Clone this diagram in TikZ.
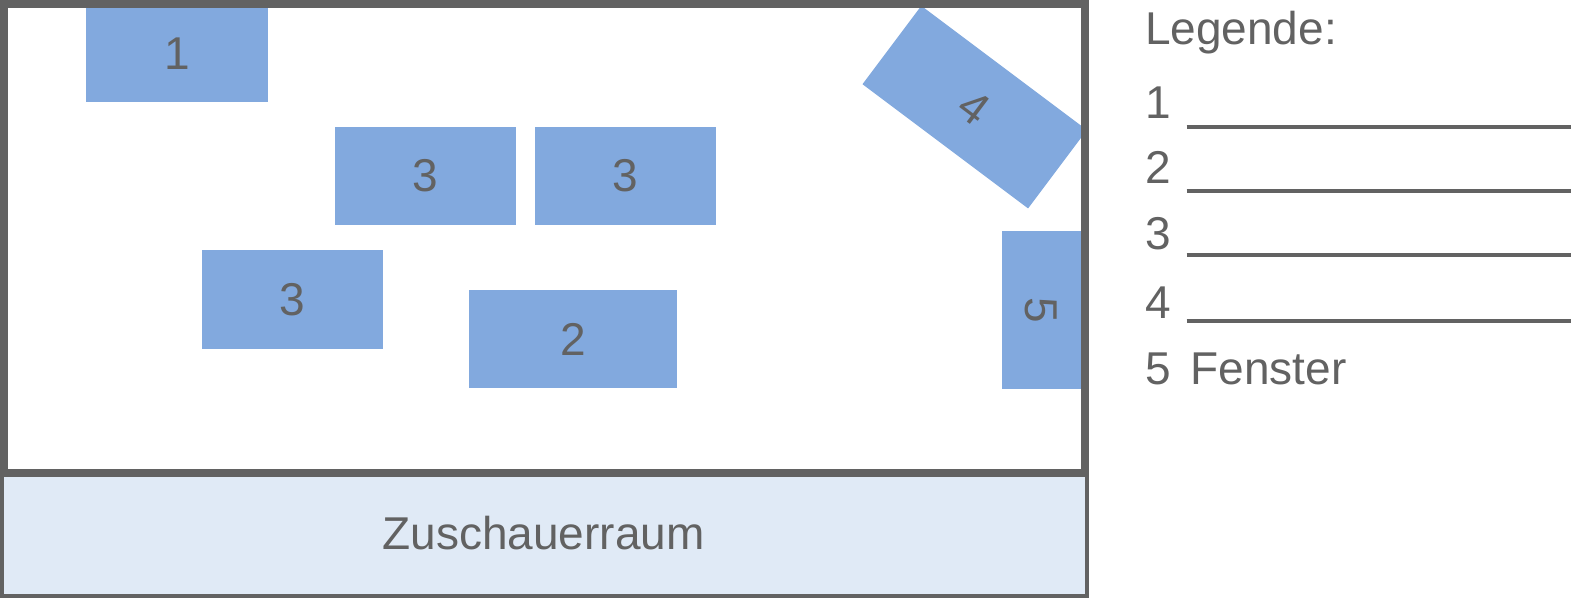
\documentclass[tikz,border=0pt]{standalone}
\usepackage{fontspec}
\setmainfont{Liberation Sans}
\definecolor{framegray}{HTML}{626262}
\definecolor{boxblue}{HTML}{82A9DE}
\definecolor{audblue}{HTML}{E0EAF6}
\begin{document}
\begin{tikzpicture}[x=1pt,y=-1pt,
  every node/.style={text=framegray,font=\fontsize{46}{55}\selectfont,inner sep=0pt,outer sep=0pt},
  furniture/.style={fill=boxblue,draw=none,minimum width=181pt,minimum height=98pt},
  legline/.style={draw=framegray,line width=4pt}]
\useasboundingbox (0,0) rectangle (1571,599);
\fill[white] (0,0) rectangle (1571,599);
% audience
\node[fill=audblue,draw=framegray,line width=4pt,minimum width=1085pt,minimum height=122.5pt,anchor=north west] (aud) at (2,473) {};
\node (audtext) at (543.5,533) {Zuschauerraum};
% stage furniture
\begin{scope}
\clip (4,4) rectangle (1085,473);
\node[furniture,minimum width=182pt,minimum height=96pt] (b1) at (177,54) {1};
\node[furniture] (b3a) at (425.5,176) {3};
\node[furniture] (b3b) at (625.5,176) {3};
\node[furniture,minimum height=99pt] (b3c) at (292.5,299.5) {3};
\node[furniture,minimum width=208pt] (b2) at (573,339) {2};
\node[furniture,minimum width=207pt,rotate=-36.87] (b4) at (974.7,107.1) {4};
\node[furniture,minimum width=158pt,minimum height=80pt,rotate=-90] (b5) at (1041.5,310.4) {5};
\end{scope}
% stage frame
\node[draw=framegray,line width=8pt,minimum width=1081pt,minimum height=469pt,anchor=north west] (stage) at (4,4) {};
% legend
\node[anchor=base west] (leg) at (1145,45) {Legende:};
\node[anchor=base west] (l1) at (1145,118.3) {1};
\node[anchor=base west] (l2) at (1145,183.3) {2};
\node[anchor=base west] (l3) at (1145,249.5) {3};
\node[anchor=base west] (l4) at (1145,318.3) {4};
\node[anchor=base west] (l5) at (1145,384.5) {5\hspace{20pt}Fenster};
\coordinate (s1) at (1186.5,127);
\coordinate (s2) at (1186.5,190.5);
\coordinate (s3) at (1186.5,255);
\coordinate (s4) at (1186.5,320.5);
\coordinate (e1) at (1571,127);
\coordinate (e2) at (1571,190.5);
\coordinate (e3) at (1571,255);
\coordinate (e4) at (1571,320.5);
\draw[legline] (s1) -- (e1);
\draw[legline] (s2) -- (e2);
\draw[legline] (s3) -- (e3);
\draw[legline] (s4) -- (e4);
\end{tikzpicture}
\end{document}
